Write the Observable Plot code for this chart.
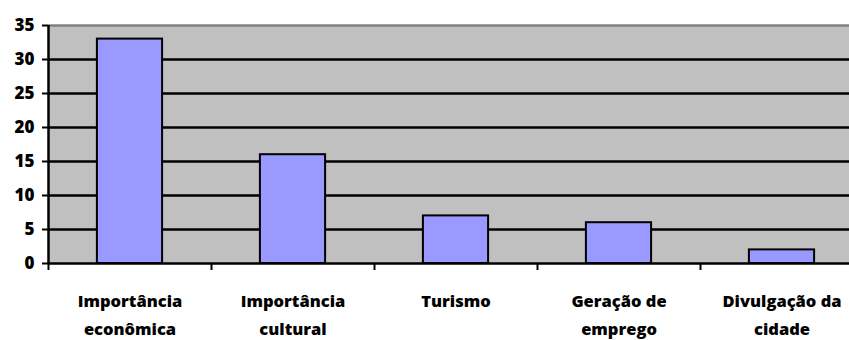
<!DOCTYPE html>
<html><head><meta charset="utf-8">
<script src="https://cdn.jsdelivr.net/npm/d3@7"></script>
<script src="https://cdn.jsdelivr.net/npm/@observablehq/plot@0.6"></script>
<style>body{margin:0;background:#fff;} svg{font-family:"Open Sans",sans-serif;}</style>
</head><body><div id="chart"></div>
<script>
const categories = ["Importância\neconômica", "Importância\ncultural", "Turismo", "Geração de\nemprego", "Divulgação da\ncidade"];
const values = [33, 16, 7, 6, 2];
const yTicks = [0, 5, 10, 15, 20, 25, 30, 35];
const gridLines = [5, 10, 15, 20, 25, 30];

const idx = values.map((_, i) => i);
const chart = Plot.plot({
  width: 849, height: 340,
  marginLeft: 48, marginTop: 25, marginBottom: 77, marginRight: -14,
  style: {fontFamily: "'Open Sans', sans-serif", background: "#fff", overflow: "hidden"},
  x: {type: "linear", domain: [0, categories.length]},
  y: {domain: [0, 35]},
  marks: [
    Plot.frame({fill: "#c0c0c0", stroke: null}),
    Plot.ruleY(gridLines, {stroke: "#000", strokeWidth: 2.5}),
    Plot.ruleY([35], {stroke: "#808080", strokeWidth: 2.5}),
    Plot.rectY(idx, {x1: i => i + 0.3, x2: i => i + 0.7, y1: 0, y2: i => values[i], fill: "#9999ff", stroke: "#000", strokeWidth: 2}),
    Plot.ruleY([0], {stroke: "#000", strokeWidth: 2.5}),
    Plot.ruleX([0], {y1: 0, y2: 35, stroke: "#000", strokeWidth: 2.5}),
    Plot.axisY({ticks: yTicks, tickSize: 6, tickPadding: 8, stroke: "#000", strokeWidth: 2, fontSize: 17, fontWeight: 800, label: null, color: "#000"}),
    Plot.axisX({ticks: d3.range(categories.length + 1), tickSize: 7, tickFormat: () => "", stroke: "#000", strokeWidth: 2, label: null}),
    Plot.text(idx, {x: i => i + 0.5, y: 0, text: i => categories[i], dy: 23, lineAnchor: "top", lineHeight: 1.72, fontSize: 16.5, fontWeight: 800, fill: "#000"})
  ]
});
document.getElementById("chart").append(chart);
</script></body></html>
